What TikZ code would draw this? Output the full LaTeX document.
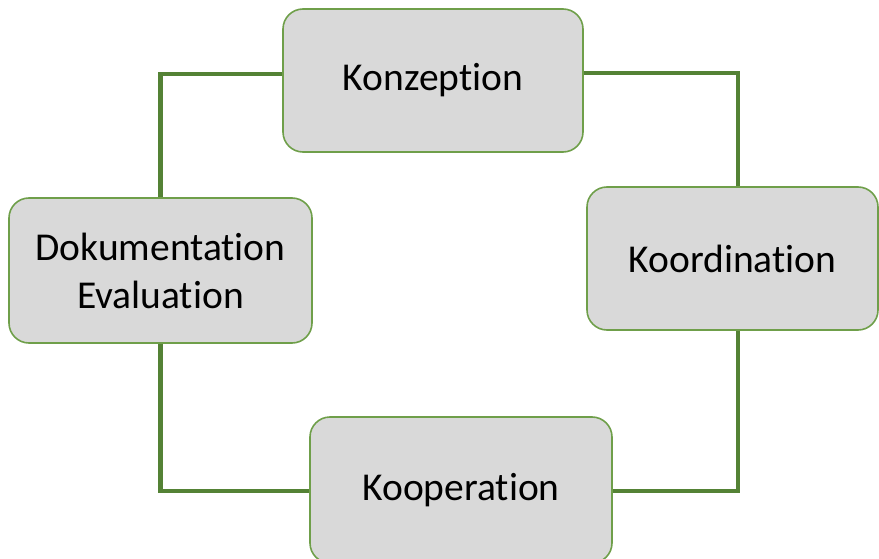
\documentclass[tikz,border=0pt]{standalone}
\usepackage{fontspec}
\setmainfont[Ligatures={NoCommon}]{Carlito}
\definecolor{linegreen}{HTML}{548235}
\definecolor{boxgreen}{HTML}{6F9F4A}
\definecolor{boxfill}{HTML}{D9D9D9}
\begin{document}
\begin{tikzpicture}[x=1pt,y=-1pt,
  box/.style={draw=boxgreen, line width=1.6pt, fill=boxfill, rounded corners=20pt,
    inner sep=0pt, align=center, font=\fontsize{39.5}{48}\selectfont},
  conn/.style={draw=linegreen, line width=4.5pt}]
\useasboundingbox (0,0) rectangle (879,559);
\node[box, minimum width=300pt, minimum height=143pt] (konz) at (433,80.5) {Konzeption};
\node[box, minimum width=291pt, minimum height=143pt] (koord) at (732.5,258.5) {Koordination};
\node[box, minimum width=303pt, minimum height=145pt] (dok) at (160.5,270.5) {Dokumentation\\Evaluation};
\node[box, minimum width=302pt, minimum height=146pt] (koop) at (461,490) {Kooperation};
\draw[conn] ([yshift=6.5pt]konz.west) -| (dok.north);
\draw[conn] ([yshift=7.5pt]konz.east) -| ([xshift=5.5pt]koord.north);
\draw[conn] ([xshift=5.5pt]koord.south) |- ([yshift=-1pt]koop.east);
\draw[conn] (dok.south) |- ([yshift=-1pt]koop.west);
\end{tikzpicture}
\end{document}
